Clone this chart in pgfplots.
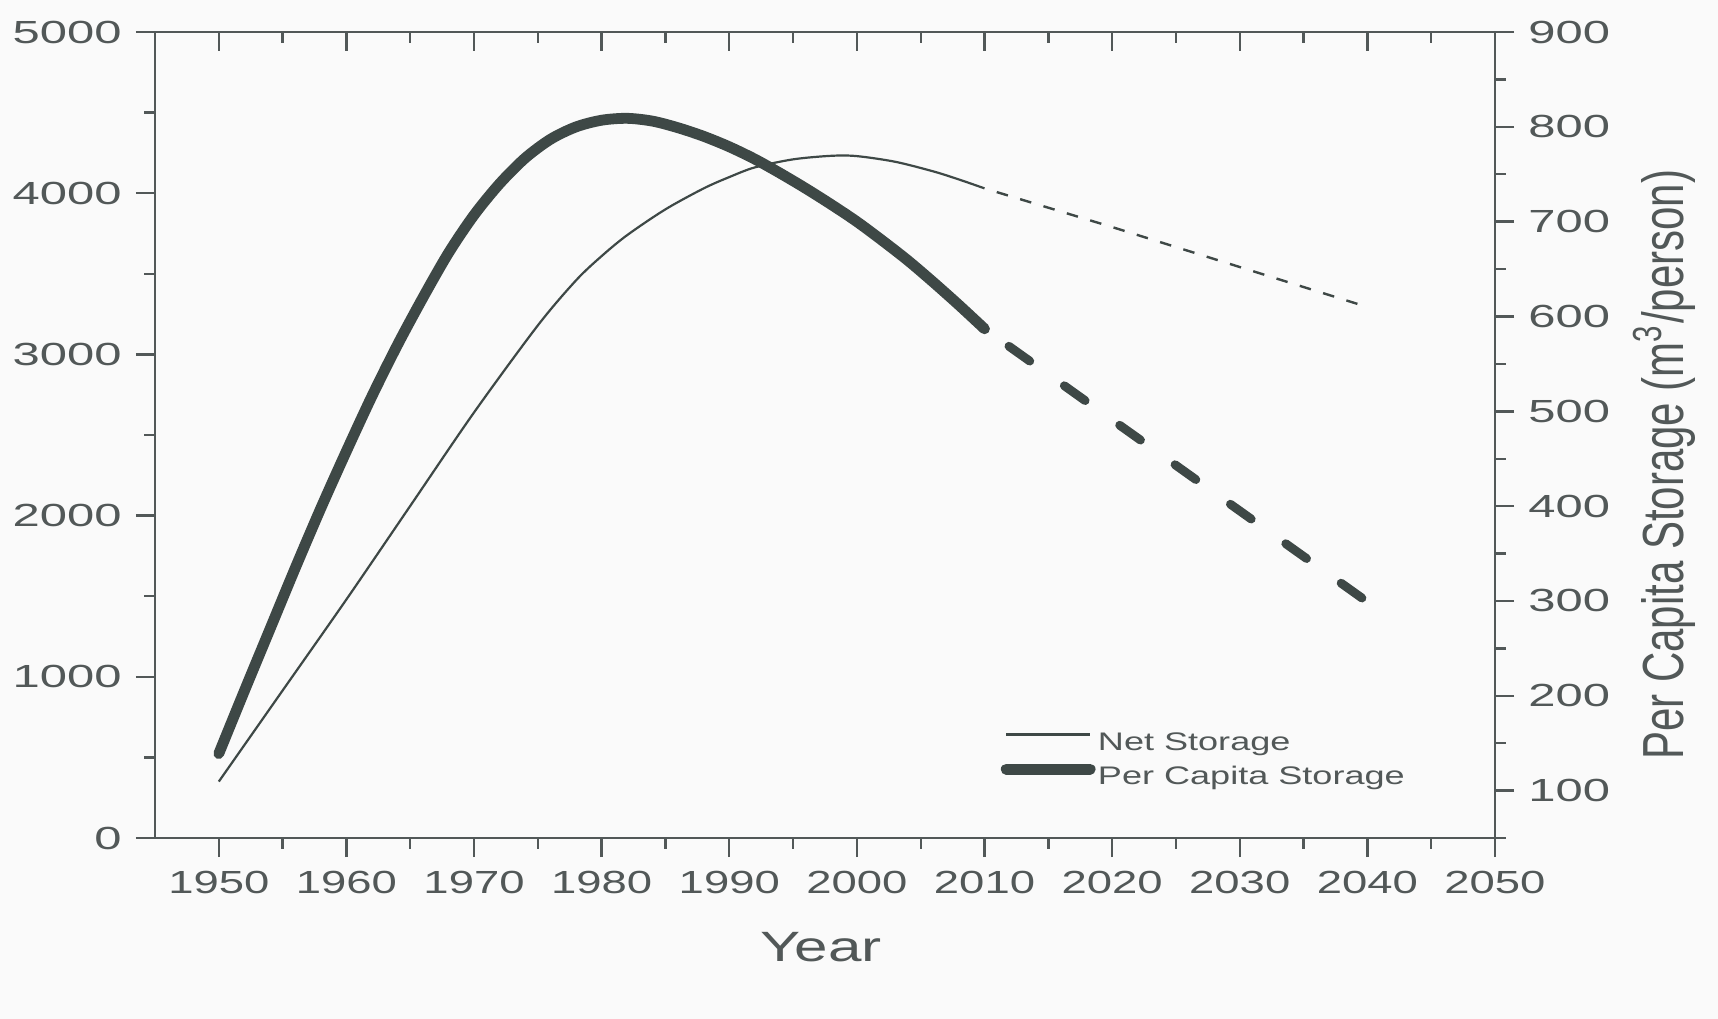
\documentclass[border=0pt]{standalone}
\usepackage{fontspec}
\setmainfont{Liberation Sans}[FakeStretch=1.42]
\newfontfamily\plainfont{Liberation Sans}
\newfontfamily\widefont{Liberation Sans}[FakeStretch=1.53]
\usepackage{graphicx}
\usepackage{pgfplots}
\pgfplotsset{compat=1.18}
\definecolor{txt}{RGB}{82,88,88}
\definecolor{ln}{RGB}{62,72,70}
\definecolor{bg}{RGB}{250,250,250}
\pgfplotsset{
  base/.style={
    width=335pt, height=201.5pt, scale only axis,
    at={(0pt,0pt)}, anchor=south west,
    xmin=1945, xmax=2050,
    axis line style={txt, line width=0.6pt, -},
    tick style={txt, line width=0.6pt},
    major tick length=4.8pt, minor tick length=2.7pt,
    xticklabel style={font=\fontsize{8}{9}\selectfont, text=txt},
    yticklabel style={font=\widefont\fontsize{8}{9}\selectfont, text=txt},
    /pgf/number format/assume math mode=true,
    /pgf/number format/1000 sep={},
    scaled ticks=false,
  },
  thinsolid/.style={color=ln, line width=0.55pt},
  thindash/.style={color=ln, line width=0.6pt, dash pattern=on 2.9pt off 3.2pt, dash phase=2.9pt},
  thicksolid/.style={color=ln, line width=2.7pt, line cap=round},
  thickdash/.style={color=ln, line width=2.2pt, line cap=round, dash pattern=on 6.4pt off 10.6pt, dash phase=9.5pt},
}
\begin{document}
\begin{tikzpicture}
\useasboundingbox (-38.75pt,-45.25pt) rectangle (390.75pt,209.5pt);
\fill[bg] (-38.75pt,-45.25pt) rectangle (390.75pt,209.5pt);
% left axis: net storage
\begin{axis}[base,
  axis x line*=bottom, axis y line*=left,
  ymin=0, ymax=5000,
  xtick={1950,1960,...,2050}, minor x tick num=1,
  ytick={0,1000,...,5000}, minor y tick num=1,
  tick align=outside,
  xlabel={Year},
  xlabel style={font=\fontsize{10.6}{12}\selectfont, text=txt, at={(axis description cs:0.497,-0.135)}, anchor=center},
  legend style={draw=none, fill=none, at={(axis description cs:0.6306,0.0955)}, anchor=west,
    font=\fontsize{6.35}{7.5}\selectfont, text=txt, inner sep=0pt, row sep=2.0pt,
    nodes={inner sep=0pt, text height=4.6pt, text depth=1.4pt},
    /tikz/every odd column/.append style={column sep=0.6pt}},
  legend cell align=left,
  legend image code/.code={\draw[#1] (0pt,2.3pt) -- (21pt,2.3pt);},
]
\addplot[thinsolid, smooth] coordinates {
(1950,350) (1955,915) (1960,1480) (1965,2060) (1970,2640) (1975,3180)
(1978,3460) (1980,3610) (1982,3740) (1985,3900) (1988,4030) (1990,4100)
(1992,4160) (1995,4210) (1998,4232) (2000,4230) (2003,4195) (2006,4135)
(2008,4085) (2010,4030)};
\addlegendentry{Net Storage}
\addplot[thindash, forget plot] coordinates {(2010,4030) (2020,3790) (2030,3542) (2040,3294)};
\addlegendimage{thicksolid}
\addlegendentry{Per Capita Storage}
\end{axis}
% right axis: per capita storage
\begin{axis}[base,
  axis y line*=right, axis x line=none,
  ymin=50, ymax=900,
  ytick={100,200,...,900}, minor ytick={50,150,...,850},
  tick align=outside,
  ylabel={\scalebox{1}[1.38]{\plainfont\fontsize{10.5}{12}\selectfont Per Capita Storage (m\textsuperscript{3}/person)}},
  ylabel style={text=txt, at={(axis description cs:1.1265,0.463)}, anchor=center},
]
\addplot[thicksolid, smooth] coordinates {
(1950,139) (1952,205) (1954,270) (1956,335) (1958,398) (1960,458)
(1962,516) (1964,570) (1966,620) (1968,667) (1970,707) (1972,740)
(1974,767) (1976,787) (1978,800) (1980,807) (1982,809) (1984,806)
(1986,799) (1988,790) (1990,779) (1992,766) (1994,751) (1996,735)
(1998,718) (2000,700) (2002,680) (2004,659) (2006,636) (2008,612)
(2010,587)};
\addplot[thickdash] coordinates {(2010,587) (2040,299)};
\end{axis}
% top axis: inward ticks
\begin{axis}[base,
  axis x line*=top, axis y line=none,
  ymin=0, ymax=1,
  xtick={1950,1960,...,2050}, minor x tick num=1,
  xticklabels={},
  tick align=inside,
]
\addplot[draw=none] coordinates {(1950,0.5)};
\end{axis}
\end{tikzpicture}
\end{document}
